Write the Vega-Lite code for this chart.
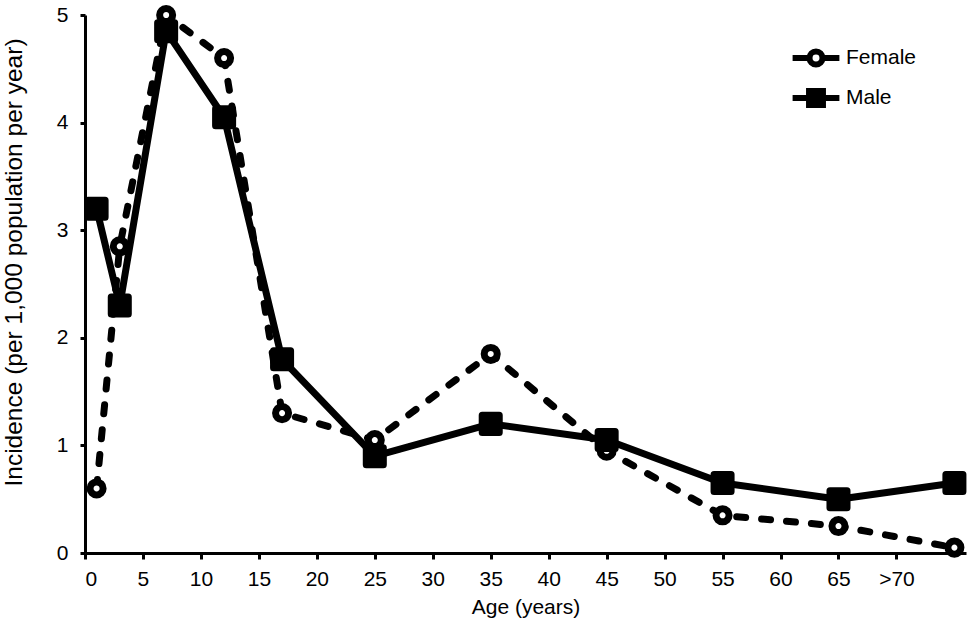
{
  "$schema": "https://vega.github.io/schema/vega-lite/v6.json",
  "width": 881,
  "height": 538,
  "autosize": "none",
  "padding": {"left": 85, "top": 15, "right": 9, "bottom": 75},
  "background": "white",
  "config": {
    "view": {"stroke": null},
    "font": "Liberation Sans",
    "axis": {
      "grid": false,
      "domainColor": "black",
      "domainWidth": 3,
      "tickColor": "black",
      "tickWidth": 3,
      "tickSize": 6,
      "labelFont": "Liberation Sans",
      "labelFontSize": 21,
      "labelColor": "black",
      "titleFont": "Liberation Sans",
      "titleFontSize": 21,
      "titleFontWeight": "normal",
      "titleColor": "black"
    }
  },
  "data": {
    "values": [
      {"age": 1, "sex": "Female", "incidence": 0.6},
      {"age": 3, "sex": "Female", "incidence": 2.85},
      {"age": 7, "sex": "Female", "incidence": 5.0},
      {"age": 12, "sex": "Female", "incidence": 4.6},
      {"age": 17, "sex": "Female", "incidence": 1.3},
      {"age": 25, "sex": "Female", "incidence": 1.05},
      {"age": 35, "sex": "Female", "incidence": 1.85},
      {"age": 45, "sex": "Female", "incidence": 0.95},
      {"age": 55, "sex": "Female", "incidence": 0.35},
      {"age": 65, "sex": "Female", "incidence": 0.25},
      {"age": 75, "sex": "Female", "incidence": 0.05},
      {"age": 1, "sex": "Male", "incidence": 3.2},
      {"age": 3, "sex": "Male", "incidence": 2.3},
      {"age": 7, "sex": "Male", "incidence": 4.85},
      {"age": 12, "sex": "Male", "incidence": 4.05},
      {"age": 17, "sex": "Male", "incidence": 1.8},
      {"age": 25, "sex": "Male", "incidence": 0.9},
      {"age": 35, "sex": "Male", "incidence": 1.2},
      {"age": 45, "sex": "Male", "incidence": 1.05},
      {"age": 55, "sex": "Male", "incidence": 0.65},
      {"age": 65, "sex": "Male", "incidence": 0.5},
      {"age": 75, "sex": "Male", "incidence": 0.65}
    ]
  },
  "encoding": {
    "x": {
      "field": "age",
      "type": "quantitative",
      "scale": {"domain": [0, 76], "nice": false},
      "axis": {
        "title": "Age (years)",
        "values": [0, 5, 10, 15, 20, 25, 30, 35, 40, 45, 50, 55, 60, 65, 70],
        "labelExpr": "datum.value == 70 ? '>70' : datum.label",
        "labelPadding": 9,
        "titlePadding": 7
      }
    },
    "y": {
      "field": "incidence",
      "type": "quantitative",
      "scale": {"domain": [0, 5], "nice": false},
      "axis": {
        "title": "Incidence (per 1,000 population per year)",
        "titleFontSize": 24.5,
        "titleY": 247,
        "values": [0, 1, 2, 3, 4, 5],
        "tickSize": 5,
        "labelPadding": 12,
        "titlePadding": 30
      }
    }
  },
  "layer": [
    {
      "mark": {"type": "point", "filled": true, "strokeWidth": 6, "opacity": 0},
      "encoding": {
        "shape": {
          "field": "sex",
          "type": "nominal",
          "scale": {
            "domain": ["Female", "Male"],
            "range": [
              "M-1.95,0H-0.54M0.54,0H1.95M0.54,0A0.54,0.54 0 1,1 -0.54,0A0.54,0.54 0 1,1 0.54,0Z",
              "M-1.95,0H1.95M-0.58,-0.58H0.58V0.58H-0.58Z"
            ]
          },
          "legend": {
            "title": null,
            "orient": "none",
            "legendX": 716,
            "legendY": 28,
            "labelFont": "Liberation Sans",
            "labelFontSize": 21,
            "labelColor": "black",
            "symbolSize": 576,
            "symbolStrokeWidth": 6,
            "symbolOpacity": 1,
            "rowPadding": 2,
            "labelOffset": 15
          }
        },
        "fill": {
          "field": "sex",
          "type": "nominal",
          "scale": {"domain": ["Female", "Male"], "range": ["white", "black"]}
        },
        "stroke": {
          "field": "sex",
          "type": "nominal",
          "scale": {"domain": ["Female", "Male"], "range": ["black", "black"]}
        }
      }
    },
    {
      "transform": [{"filter": "datum.sex == 'Male'"}],
      "mark": {"type": "line", "color": "black", "strokeWidth": 7, "strokeJoin": "round"}
    },
    {
      "transform": [{"filter": "datum.sex == 'Female'"}],
      "mark": {"type": "line", "color": "black", "strokeWidth": 7, "strokeDash": [9, 16], "strokeCap": "round", "strokeJoin": "round"}
    },
    {
      "mark": {"type": "point", "filled": true, "stroke": "black", "strokeWidth": 7, "strokeJoin": "round", "opacity": 1},
      "encoding": {
        "shape": {
          "condition": {"test": "datum.sex == 'Female'", "value": "circle"},
          "value": "square"
        },
        "fill": {
          "condition": {"test": "datum.sex == 'Female'", "value": "white"},
          "value": "black"
        },
        "size": {
          "condition": {"test": "datum.sex == 'Female'", "value": 170},
          "value": 290
        }
      }
    }
  ]
}
